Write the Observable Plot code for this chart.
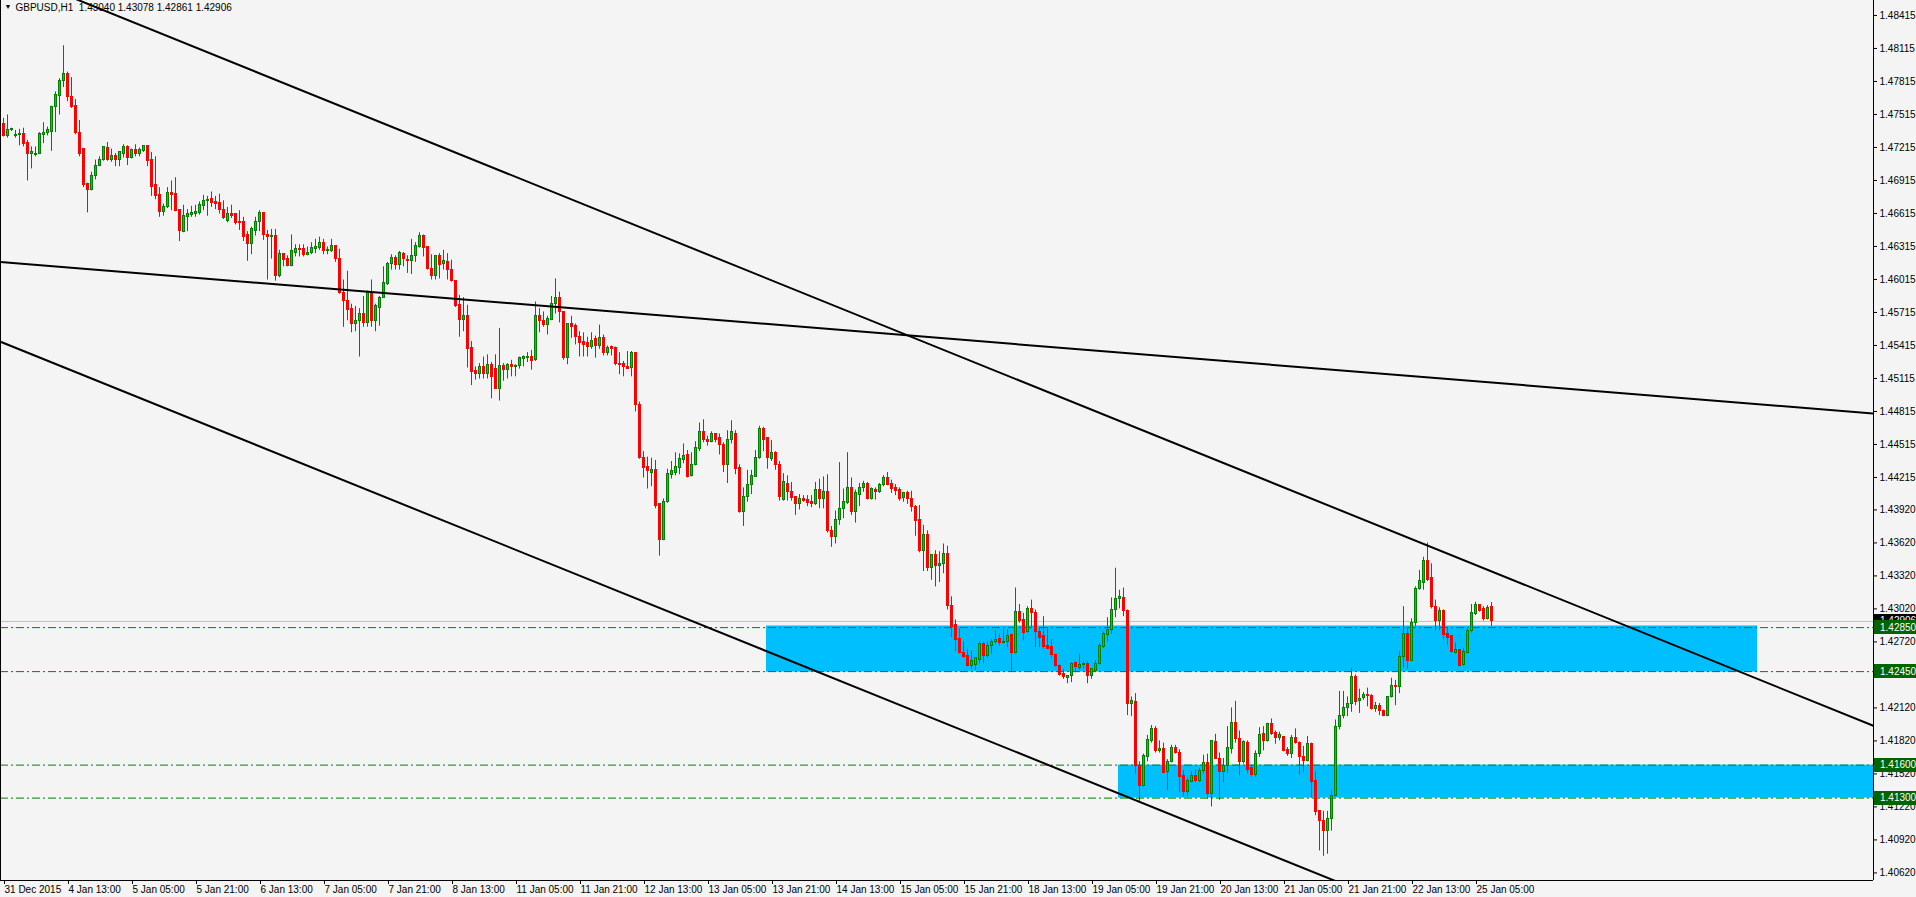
<!DOCTYPE html>
<html><head><meta charset="utf-8">
<script src="https://cdn.jsdelivr.net/npm/d3@7"></script>
<script src="https://cdn.jsdelivr.net/npm/@observablehq/plot@0.6"></script>
<style>html,body{margin:0;padding:0;background:#f4f4f4;overflow:hidden}svg{display:block}</style>
</head><body><div id="chart"></div>
<script>
// GBPUSD H1 bars, prices x 10000
const OPEN = [
14743,14732,14737,14732,14733,14734,14726,14716,14715,14716,
14733,14735,14736,14758,14768,14782,14788,14767,14759,14735,
14720,14688,14683,14696,14705,14710,14721,14710,14714,14710,
14716,14722,14712,14719,14716,14718,14723,14710,14687,14678,
14663,14667,14680,14679,14665,14645,14658,14660,14661,14662,
14668,14673,14675,14672,14671,14665,14655,14661,14661,14654,
14654,14642,14634,14646,14654,14662,14642,14640,14641,14605,
14625,14620,14614,14626,14629,14629,14624,14626,14629,14630,
14635,14627,14627,14632,14620,14589,14582,14575,14561,14564,
14570,14562,14589,14564,14576,14585,14597,14616,14621,14615,
14625,14619,14618,14623,14631,14641,14631,14611,14605,14623,
14616,14617,14610,14600,14578,14565,14568,14539,14518,14516,
14522,14516,14524,14520,14502,14523,14519,14524,14522,14523,
14529,14530,14531,14528,14568,14564,14560,14565,14579,14585,
14572,14530,14561,14559,14549,14545,14544,14540,14547,14541,
14548,14535,14540,14539,14525,14525,14522,14521,14535,14487,
14439,14431,14426,14428,14397,14365,14399,14424,14426,14430,
14437,14442,14423,14433,14447,14463,14456,14454,14461,14457,
14451,14433,14456,14461,14430,14390,14404,14415,14422,14439,
14466,14457,14438,14444,14433,14401,14416,14408,14404,14397,
14402,14401,14399,14397,14410,14402,14408,14373,14367,14383,
14393,14398,14412,14390,14406,14412,14416,14402,14410,14408,
14415,14421,14416,14412,14410,14403,14407,14402,14395,14383,
14355,14369,14339,14351,14341,14343,14352,14305,14287,14275,
14262,14259,14250,14251,14256,14270,14259,14268,14272,14275,
14271,14272,14278,14262,14299,14292,14281,14302,14298,14281,
14277,14268,14267,14260,14250,14243,14239,14241,14253,14248,
14251,14252,14241,14246,14252,14267,14278,14283,14301,14311,
14312,14300,14216,14217,14159,14141,14167,14182,14193,14173,
14175,14154,14163,14176,14171,14150,14136,14145,14150,14146,
14155,14162,14134,14181,14166,14154,14159,14175,14198,14184,
14163,14180,14157,14151,14170,14188,14182,14197,14189,14185,
14186,14174,14170,14185,14180,14167,14164,14179,14146,14118,
14109,14100,14111,14132,14195,14205,14212,14216,14240,14218,
14221,14224,14223,14211,14214,14209,14205,14222,14232,14231,
14258,14279,14255,14289,14320,14326,14346,14330,14304,14291,
14300,14279,14277,14262,14265,14251,14262,14282,14297,14306,
14302,14293,14304];
const HIGH = [
14748,14751,14739,14737,14738,14739,14728,14722,14722,14735,
14744,14740,14759,14772,14784,14814,14790,14785,14765,14746,
14720,14689,14699,14710,14713,14722,14726,14720,14716,14717,
14724,14723,14720,14724,14721,14723,14723,14717,14713,14685,
14670,14685,14691,14694,14665,14669,14665,14668,14669,14672,
14678,14677,14681,14677,14679,14673,14667,14669,14661,14664,
14658,14645,14649,14658,14664,14662,14646,14647,14647,14628,
14625,14623,14642,14633,14633,14633,14631,14635,14638,14640,
14638,14631,14638,14632,14629,14601,14609,14579,14577,14575,
14586,14591,14601,14579,14586,14613,14617,14624,14623,14627,
14626,14623,14638,14635,14644,14642,14631,14624,14623,14625,
14628,14625,14619,14600,14587,14585,14578,14545,14522,14525,
14531,14533,14526,14533,14557,14525,14525,14528,14524,14531,
14532,14535,14537,14581,14575,14572,14568,14586,14602,14590,
14572,14561,14568,14561,14554,14553,14549,14553,14550,14560,
14551,14541,14541,14540,14535,14527,14536,14536,14535,14490,
14445,14440,14439,14437,14397,14402,14429,14436,14444,14443,
14452,14446,14444,14454,14471,14474,14459,14463,14461,14461,
14453,14464,14473,14464,14433,14412,14428,14428,14446,14468,
14467,14457,14455,14445,14436,14425,14423,14417,14404,14406,
14405,14405,14405,14417,14420,14422,14424,14377,14391,14435,
14411,14444,14421,14410,14416,14418,14417,14412,14412,14416,
14423,14426,14419,14415,14412,14407,14409,14409,14396,14396,
14378,14373,14351,14355,14354,14361,14359,14313,14292,14284,
14272,14265,14264,14258,14272,14272,14272,14274,14282,14279,
14283,14283,14279,14321,14306,14298,14304,14310,14301,14285,
14295,14285,14274,14261,14251,14247,14241,14253,14254,14261,
14254,14254,14248,14255,14270,14281,14294,14312,14339,14319,
14321,14301,14222,14225,14163,14170,14187,14196,14195,14182,
14180,14165,14178,14178,14174,14155,14148,14154,14156,14157,
14169,14170,14182,14188,14171,14166,14195,14212,14218,14191,
14182,14182,14160,14173,14194,14195,14198,14202,14191,14190,
14186,14176,14187,14193,14181,14177,14186,14180,14154,14118,
14118,14118,14137,14201,14227,14227,14222,14248,14242,14229,
14226,14230,14224,14217,14216,14210,14222,14239,14237,14263,
14304,14285,14293,14322,14337,14349,14362,14343,14310,14303,
14301,14285,14277,14271,14265,14266,14284,14306,14308,14306,
14304,14305,14307.8];
const LOW = [
14731,14730,14736,14730,14723,14722,14691,14702,14713,14715,
14725,14732,14718,14735,14751,14776,14763,14757,14733,14713,
14685,14662,14682,14692,14704,14709,14709,14708,14704,14704,
14712,14705,14711,14713,14713,14717,14704,14677,14674,14658,
14659,14666,14664,14663,14636,14644,14645,14658,14658,14660,
14664,14659,14667,14665,14661,14656,14653,14657,14651,14646,
14636,14618,14624,14641,14645,14637,14601,14620,14600,14603,
14613,14613,14613,14622,14622,14622,14623,14624,14625,14628,
14624,14624,14626,14617,14588,14558,14564,14553,14554,14531,
14558,14558,14558,14554,14559,14585,14596,14610,14610,14610,
14613,14607,14606,14617,14630,14622,14610,14601,14601,14602,
14610,14601,14599,14576,14549,14554,14521,14505,14510,14511,
14511,14511,14493,14502,14491,14509,14511,14513,14513,14520,
14522,14526,14519,14527,14553,14558,14551,14564,14570,14562,
14528,14524,14548,14542,14531,14531,14531,14538,14530,14538,
14532,14532,14532,14523,14515,14513,14520,14513,14481,14438,
14421,14411,14413,14393,14350,14364,14398,14420,14423,14424,
14434,14421,14422,14432,14445,14453,14450,14453,14453,14442,
14426,14416,14452,14424,14389,14377,14399,14406,14422,14438,
14445,14429,14436,14428,14400,14400,14400,14400,14387,14392,
14399,14395,14394,14396,14393,14393,14371,14358,14361,14378,
14384,14397,14387,14380,14395,14408,14401,14401,14401,14407,
14413,14414,14407,14405,14400,14399,14397,14390,14368,14353,
14336,14336,14328,14322,14326,14334,14301,14276,14263,14261,
14257,14249,14247,14246,14252,14252,14257,14261,14270,14268,
14270,14267,14245,14261,14289,14273,14280,14285,14267,14267,
14265,14265,14257,14249,14241,14238,14234,14235,14244,14246,
14247,14234,14238,14245,14251,14266,14272,14279,14294,14302,
14295,14205,14204,14152,14126,14140,14163,14180,14171,14171,
14152,14137,14162,14170,14135,14131,14131,14144,14144,14144,
14152,14129,14122,14165,14128,14144,14152,14170,14180,14150,
14161,14152,14149,14149,14167,14173,14181,14187,14179,14182,
14172,14168,14166,14179,14151,14153,14163,14130,14114,14082,
14077,14079,14100,14131,14192,14202,14204,14208,14214,14207,
14219,14213,14210,14208,14205,14204,14204,14221,14214,14225,
14248,14247,14254,14286,14319,14319,14327,14302,14282,14282,
14274,14268,14262,14261,14249,14250,14261,14280,14296,14299,
14291,14292,14286.1];
const CLOSE = [
14732,14737,14738,14733,14734,14725,14716,14717,14716,14734,
14735,14737,14758,14769,14782,14788,14767,14758,14735,14716,
14687,14683,14696,14705,14710,14722,14710,14714,14710,14717,
14722,14712,14719,14716,14719,14723,14709,14686,14677,14663,
14667,14680,14678,14664,14646,14659,14661,14662,14663,14669,
14673,14674,14671,14670,14665,14657,14661,14659,14653,14653,
14640,14634,14647,14654,14662,14642,14640,14641,14605,14625,
14619,14614,14627,14629,14628,14624,14626,14630,14631,14635,
14627,14628,14632,14620,14589,14582,14574,14561,14564,14570,
14562,14590,14564,14577,14585,14598,14616,14621,14615,14626,
14620,14618,14623,14632,14641,14630,14611,14605,14623,14615,
14618,14610,14600,14577,14565,14568,14538,14517,14516,14522,
14516,14524,14513,14502,14523,14519,14524,14522,14523,14530,
14531,14531,14527,14568,14564,14560,14566,14579,14585,14572,
14530,14561,14558,14549,14544,14542,14540,14546,14541,14548,
14535,14539,14538,14525,14524,14522,14520,14535,14487,14439,
14430,14427,14428,14396,14365,14399,14425,14427,14431,14438,
14441,14422,14433,14448,14463,14456,14454,14461,14456,14451,
14433,14456,14463,14429,14390,14404,14415,14423,14439,14466,
14456,14439,14444,14433,14404,14417,14408,14403,14397,14402,
14400,14398,14397,14410,14402,14408,14373,14367,14383,14393,
14399,14412,14390,14407,14412,14416,14402,14411,14408,14415,
14421,14415,14411,14409,14402,14407,14402,14395,14382,14355,
14369,14339,14351,14341,14343,14352,14305,14286,14274,14262,
14258,14250,14255,14257,14270,14259,14268,14272,14274,14271,
14272,14277,14262,14299,14291,14280,14302,14298,14281,14276,
14267,14266,14260,14250,14242,14240,14241,14252,14249,14251,
14252,14241,14247,14252,14268,14279,14283,14301,14311,14313,
14300,14216,14218,14159,14141,14168,14183,14193,14173,14175,
14153,14163,14176,14171,14149,14136,14146,14150,14146,14155,
14162,14134,14182,14166,14154,14159,14176,14198,14184,14163,
14181,14156,14151,14170,14187,14182,14197,14188,14185,14187,
14173,14170,14185,14180,14167,14164,14179,14145,14117,14109,
14100,14111,14132,14195,14205,14212,14216,14240,14217,14220,
14224,14223,14211,14214,14209,14205,14222,14232,14231,14258,
14279,14255,14289,14320,14327,14346,14328,14304,14291,14300,
14278,14276,14263,14265,14250,14263,14282,14298,14306,14300,
14293,14303,14290.6];

const timeLabels = ["31 Dec 2015","4 Jan 13:00","5 Jan 05:00","5 Jan 21:00","6 Jan 13:00","7 Jan 05:00",
  "7 Jan 21:00","8 Jan 13:00","11 Jan 05:00","11 Jan 21:00","12 Jan 13:00","13 Jan 05:00","13 Jan 21:00",
  "14 Jan 13:00","15 Jan 05:00","15 Jan 21:00","18 Jan 13:00","19 Jan 05:00","19 Jan 21:00","20 Jan 13:00",
  "21 Jan 05:00","21 Jan 21:00","22 Jan 13:00","25 Jan 05:00"];
const barsPerLabel = 16;
const priceTicks = [1.48415,1.48115,1.47815,1.47515,1.47215,1.46915,1.46615,1.46315,1.46015,1.45715,
  1.45415,1.45115,1.44815,1.44515,1.44215,1.43920,1.43620,1.43320,1.43020,1.42720,1.42420,1.42120,
  1.41820,1.41520,1.41220,1.40920,1.40620];
const levels = [1.42850, 1.42450, 1.41600, 1.41300];
const zoneFrom = [190.75, 278.75];
const zoneTo = [438.5, 467.5];
const zoneTop = [1.42865, 1.41600];
const zoneBottom = [1.42445, 1.41300];
const lineNames = ["upper","upper","middle","middle","lower","lower"];
const lineBar = [-0.75, 467.5, -0.75, 467.5, -0.75, 345];
const linePrice = [1.48841, 1.41957, 1.46173, 1.44797, 1.45449, 1.40370];
const bidPrice = 1.42906;
const header = "GBPUSD,H1  1.43040 1.43078 1.42861 1.42906";
const xDomain = [-0.75, 467.5];
const yDomain = [1.40551, 1.48551];

const bars = OPEN.map((o, i) => {
  const O = o / 1e4, C = CLOSE[i] / 1e4, H = HIGH[i] / 1e4, L = LOW[i] / 1e4;
  return {i, o: O, c: C, h: Math.max(H, O, C), l: Math.min(L, O, C), up: C >= O};
});
const bull = bars.filter(d => d.up), bear = bars.filter(d => !d.up);
const zones = zoneFrom.map((f, k) => ({from: f, to: zoneTo[k], top: zoneTop[k], bottom: zoneBottom[k]}));
const trend = lineNames.map((n, k) => ({line: n, i: lineBar[k], p: linePrice[k]}));
const tickIdx = timeLabels.map((_, k) => k * barsPerLabel);

const font = "Tahoma, 'Liberation Sans', Arial, sans-serif";
const GREEN = "#008000", LIGHT = "#2fb32f", RED = "#ff0000";

const chart = Plot.plot({
  width: 1916, height: 897,
  marginLeft: 0, marginRight: 43, marginTop: 0, marginBottom: 17,
  style: {background: "#f4f4f4", fontFamily: font, fontSize: "10px", color: "#000"},
  x: {type: "linear", domain: xDomain},
  y: {type: "linear", domain: yDomain},
  marks: [
    Plot.rect(zones, {x1: "from", x2: "to", y1: "bottom", y2: "top", fill: "#00bfff"}),
    Plot.ruleY([bidPrice], {stroke: "#c0c0c0", strokeWidth: 1}),
    Plot.ruleY(levels, {stroke: GREEN, strokeWidth: 1, strokeDasharray: "8,3,2,3"}),
    Plot.ruleX(bull, {x: "i", y1: "l", y2: "h", stroke: GREEN, strokeWidth: 1}),
    Plot.ruleX(bear, {x: "i", y1: "l", y2: "h", stroke: RED, strokeWidth: 1}),
    Plot.rect(bear, {x1: d => d.i - 0.375, x2: d => d.i + 0.375, y1: "o", y2: "c", fill: RED,
      insetTop: -0.5, insetBottom: -0.5, shapeRendering: "crispEdges"}),
    Plot.rect(bull, {x1: d => d.i - 0.375, x2: d => d.i + 0.375, y1: "o", y2: "c", fill: GREEN,
      insetTop: -0.5, insetBottom: -0.5, shapeRendering: "crispEdges"}),
    Plot.rect(bull, {x1: d => d.i - 0.125, x2: d => d.i + 0.125, y1: "o", y2: "c", fill: LIGHT,
      insetTop: 0.5, insetBottom: 0.5, shapeRendering: "crispEdges"}),
    Plot.line(trend, {x: "i", y: "p", z: "line", stroke: "#000", strokeWidth: 2, clip: true}),
    Plot.ruleX([xDomain[0]], {stroke: "#000"}),
    Plot.ruleX([xDomain[1]], {stroke: "#000"}),
    Plot.ruleY([yDomain[0]], {stroke: "#000"}),
    Plot.axisY(priceTicks, {anchor: "right", tickSize: 3, tickPadding: 3, tickFormat: d => d.toFixed(5),
      fontSize: 10, fill: "#000"}),
    Plot.axisX(tickIdx, {anchor: "bottom", tickSize: 4, tickPadding: 1, textAnchor: "start", dx: 1,
      tickFormat: i => timeLabels[i / barsPerLabel], fontSize: 10, fill: "#000"}),
    Plot.text([header], {frameAnchor: "top-left", text: d => d, dx: 15, dy: 3, lineAnchor: "top",
      textAnchor: "start", fontSize: 10, fill: "#000"}),
    Plot.text(["\u25BC"], {frameAnchor: "top-left", text: d => d, dx: 4, dy: 4, lineAnchor: "top",
      textAnchor: "start", fontSize: 7, fill: "#000"})
  ]
});
document.getElementById("chart").appendChild(chart);

// price tags on the right axis, positioned with the chart's own scales
const svg = d3.select(chart);
const ys = chart.scale("y"), xs = chart.scale("x");
const axisX0 = xs.range[1];
function tag(v, bg) {
  const py = ys.apply(v);
  const g = svg.append("g").attr("text-anchor", "start");
  g.append("rect").attr("x", axisX0 + 1).attr("y", Math.round(py) - 7).attr("width", 1916 - axisX0 - 1)
    .attr("height", 14).attr("fill", bg);
  g.append("text").attr("x", axisX0 + 7).attr("y", py).attr("dy", "0.35em").attr("fill", "#fff")
    .attr("text-anchor", "start").attr("font-size", 10).attr("font-family", font).text(v.toFixed(5));
}
tag(bidPrice, "#000");
levels.forEach(v => tag(v, "#006400"));
</script>
</body></html>
